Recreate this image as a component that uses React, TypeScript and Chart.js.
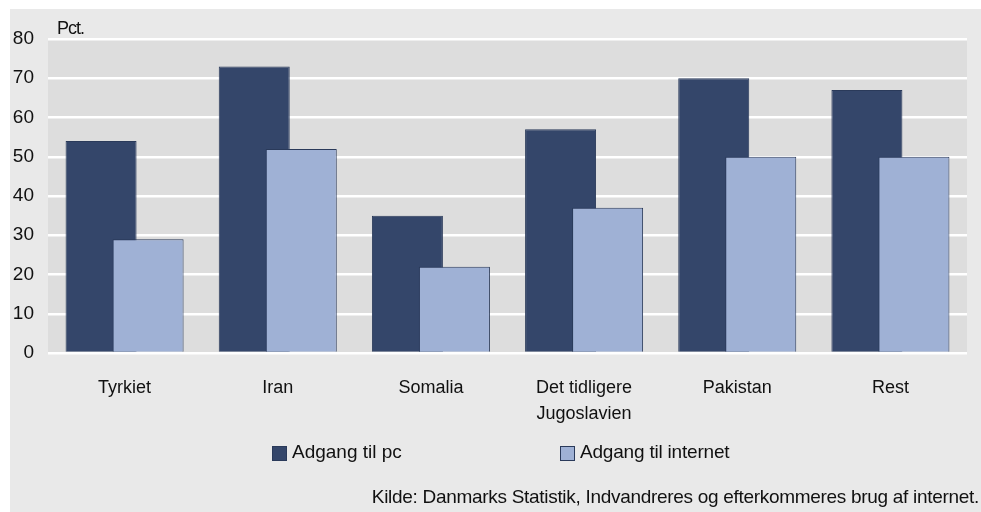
import React, { useEffect, useRef } from "react";
import { Chart, registerables } from "chart.js";

Chart.register(...registerables);

const categories: (string | string[])[] = ["Tyrkiet", "Iran", "Somalia", ["Det tidligere", "Jugoslavien"], "Pakistan", "Rest"];
const pcValues = [54, 73, 35, 57, 70, 67];
const internetValues = [29, 52, 22, 37, 50, 50];
const yTicks = [0, 10, 20, 30, 40, 50, 60, 70, 80];
const seriesNames = ["Adgang til pc", "Adgang til internet"];
const unitLabel = "Pct.";
const sourceText = "Kilde: Danmarks Statistik, Indvandreres og efterkommeres brug af internet.";

const DARK = "#34466a";
const LIGHT = "#9fb1d5";
const BORDER = "#2a3a5a";
const FONT = "'Liberation Sans', Arial, sans-serif";

const plotBg = {
  id: "plotBg",
  beforeDraw(chart: any) {
    const { ctx, chartArea } = chart;
    ctx.save();
    ctx.fillStyle = "#dddddd";
    ctx.fillRect(chartArea.left, chartArea.top, chartArea.right - chartArea.left, chartArea.bottom - chartArea.top);
    ctx.restore();
  },
};

// draw datasets in natural order so the second series sits on top of the first
const drawOrder = {
  id: "drawOrder",
  beforeDatasetsDraw(chart: any) {
    const metas = chart.getSortedVisibleDatasetMetas();
    metas.forEach((m: any) => m.controller.draw());
    return false;
  },
};

const zeroLine = {
  id: "zeroLine",
  afterDatasetsDraw(chart: any) {
    const { ctx, chartArea, scales } = chart;
    const y = Math.round(scales.y.getPixelForValue(0)) + 0.5;
    ctx.save();
    ctx.strokeStyle = BORDER;
    ctx.lineWidth = 1.5;
    ctx.beginPath();
    ctx.moveTo(chartArea.left, y);
    ctx.lineTo(chartArea.right, y);
    ctx.stroke();
    ctx.restore();
  },
};

export default function App() {
  const ref = useRef<HTMLCanvasElement>(null);
  useEffect(() => {
    if (!ref.current) return;
    const chart = new Chart(ref.current, {
      type: "bar",
      data: {
        labels: categories,
        datasets: [
          { label: seriesNames[0], data: pcValues, backgroundColor: DARK, borderColor: BORDER, borderWidth: 1 },
          { label: seriesNames[1], data: internetValues, backgroundColor: LIGHT, borderColor: BORDER, borderWidth: 1 },
        ],
      },
      options: {
        animation: false,
        responsive: false,
        maintainAspectRatio: false,
        layout: { padding: { left: 0, top: 39, right: 14, bottom: 0 } },
        datasets: { bar: { categoryPercentage: 0.614, barPercentage: 1.51 } },
        plugins: { legend: { display: false }, tooltip: { enabled: false } },
        scales: {
          x: {
            grid: { display: false, drawTicks: false },
            border: { display: false },
            ticks: { color: "#111", font: { family: FONT, size: 18, lineHeight: 1.45 }, padding: 22, maxRotation: 0 },
            afterFit: (s: any) => { s.height = 159; },
          },
          y: {
            min: 0,
            max: 80,
            afterBuildTicks: (s: any) => { s.ticks = yTicks.map((v) => ({ value: v })); },
            grid: { color: "#ffffff", lineWidth: 2.5, drawTicks: false },
            border: { display: false },
            ticks: { color: "#111", font: { family: FONT, size: 19 }, padding: 14 },
            afterFit: (s: any) => { s.width = 48; },
          },
        },
      },
      plugins: [plotBg, drawOrder, zeroLine],
    });
    return () => chart.destroy();
  }, []);

  const text: React.CSSProperties = { position: "absolute", fontFamily: FONT, color: "#111", whiteSpace: "nowrap" };
  return (
    <div style={{ position: "fixed", left: 0, top: 0, width: 981, height: 512, background: "#ffffff", overflow: "hidden" }}>
      <div style={{ position: "absolute", left: 10, top: 9, width: 971, height: 503, background: "#e9e9e9" }} />
      <canvas ref={ref} width={981} height={512} style={{ position: "absolute", left: 0, top: 0, width: 981, height: 512 }} />
      <div style={{ ...text, left: 57, top: 18, fontSize: 18, letterSpacing: -1 }}>{unitLabel}</div>
      <div style={{ position: "absolute", left: 272, top: 446, width: 13, height: 13, background: DARK, border: `1px solid ${BORDER}` }} />
      <div style={{ ...text, left: 292, top: 441, fontSize: 19, letterSpacing: 0 }}>{seriesNames[0]}</div>
      <div style={{ position: "absolute", left: 560, top: 446, width: 13, height: 13, background: LIGHT, border: `1px solid ${BORDER}` }} />
      <div style={{ ...text, left: 580, top: 441, fontSize: 19, letterSpacing: -0.2 }}>{seriesNames[1]}</div>
      <div style={{ ...text, right: 2, top: 486, fontSize: 19, letterSpacing: -0.3 }}>{sourceText}</div>
    </div>
  );
}
